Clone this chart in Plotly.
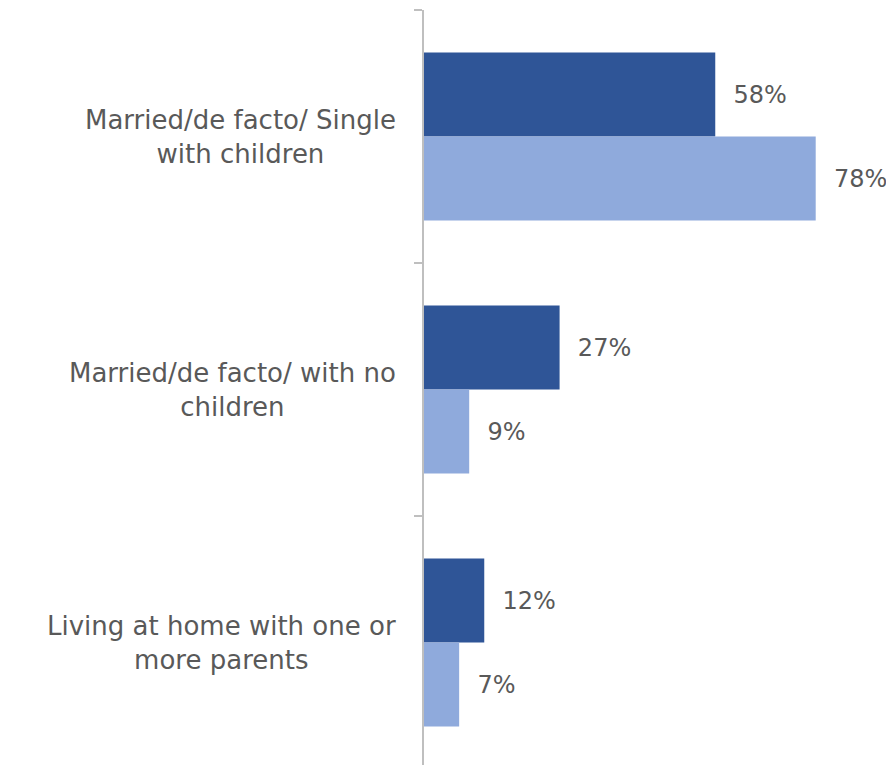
import plotly.graph_objects as go

# Household situation categories (top to bottom) and the two series shares (%)
categories = [
    "Married/de facto/ Single<br>with children",
    "Married/de facto/ with no<br>children",
    "Living at home with one or<br>more parents",
]
series_dark = [58, 27, 12]
series_light = [78, 9, 7]

dark_color = "#2F5597"
light_color = "#8FAADC"
text_color = "#595959"
axis_color = "#BFBFBF"
font_family = "DejaVu Sans"

fig = go.Figure()
for vals, col in ((series_dark, dark_color), (series_light, light_color)):
    fig.add_trace(go.Bar(
        y=list(range(len(categories))),
        x=vals,
        orientation="h",
        marker=dict(color=col, line=dict(width=0)),
        texttemplate="  %{x}%",
        textposition="outside",
        textfont=dict(family=font_family, size=24, color=text_color),
        cliponaxis=False,
        hoverinfo="skip",
    ))

# Category labels: centred multi-line text to the left of the axis
for i, cat in enumerate(categories):
    fig.add_annotation(
        x=0, xref="paper", xanchor="right", xshift=-26,
        y=i, yref="y", yanchor="middle",
        text=cat, align="center", showarrow=False,
        font=dict(family=font_family, size=26, color=text_color),
    )

fig.update_layout(
    width=886, height=765,
    margin=dict(l=424, r=0, t=10, b=0),
    paper_bgcolor="white", plot_bgcolor="white",
    barmode="group", bargap=0.336, bargroupgap=0,
    showlegend=False,
    font=dict(family=font_family, color=text_color),
)
fig.update_xaxes(range=[0, 92], visible=False)
fig.update_yaxes(
    type="linear",
    range=[2.484, -0.5],
    tickmode="array",
    tickvals=[-0.5, 0.5, 1.5, 2.5],
    showticklabels=False,
    ticks="outside", ticklen=8, tickwidth=2, tickcolor=axis_color,
    showline=True, linecolor=axis_color, linewidth=2,
    showgrid=False, zeroline=False,
)

fig.write_html("out.html")
